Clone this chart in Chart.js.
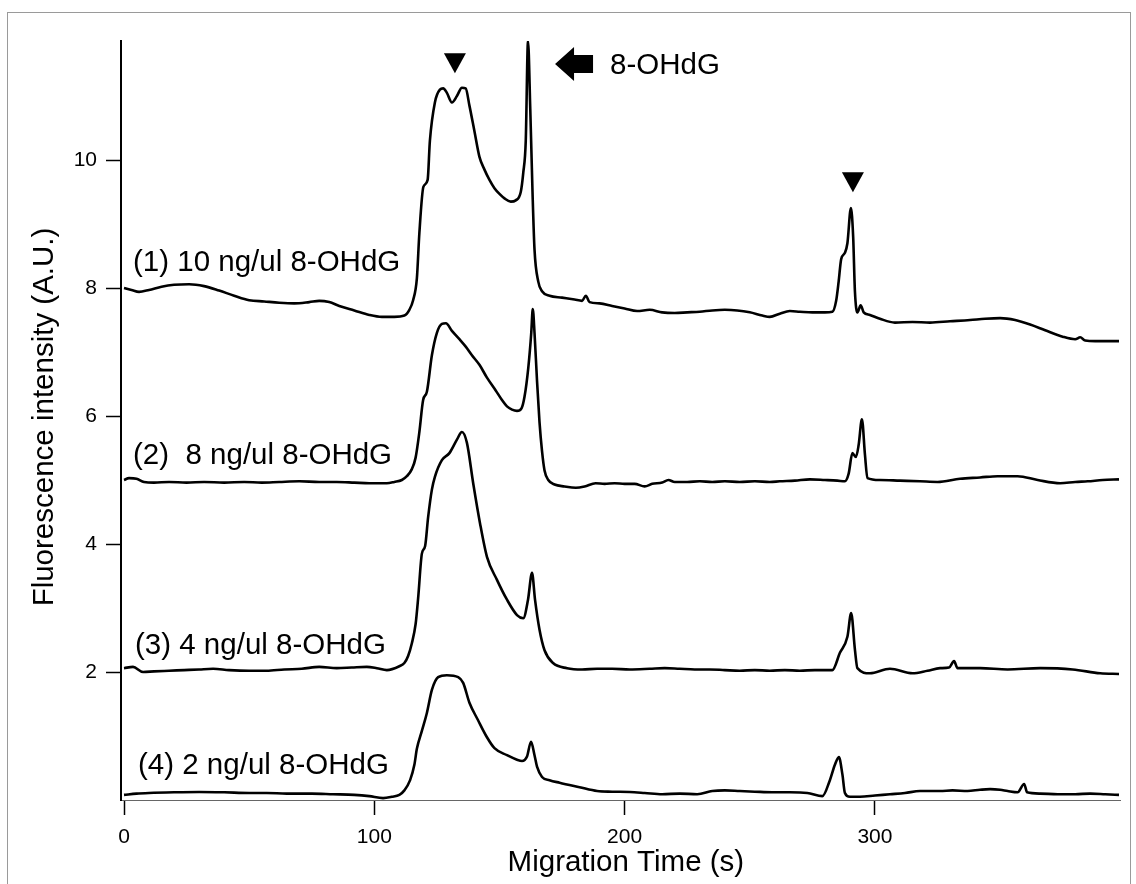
<!DOCTYPE html>
<html>
<head>
<meta charset="utf-8">
<script src="https://cdn.jsdelivr.net/npm/chart.js@4/dist/chart.umd.min.js"></script>
<style>
  html, body { margin: 0; padding: 0; background: #fff; }
  #wrap { width: 1136px; height: 884px; position: relative; }
</style>
</head>
<body>
<div id="wrap"><canvas id="cv" width="1136" height="884"></canvas></div>
<script>
// Electropherograms of 8-OHdG standards (fluorescence vs migration time)

const timeTicks = [0, 100, 200, 300];
const intensityTicks = [2, 4, 6, 8, 10];

const traceLabels = [
  '(1) 10 ng/ul 8-OHdG',
  '(2)  8 ng/ul 8-OHdG',
  '(3) 4 ng/ul 8-OHdG',
  '(4) 2 ng/ul 8-OHdG'
];

// (1) 10 ng/ul
const trace1Time = [0,3,6,10,15,20,26,32,38,44,50,56,62,68,74,78,82,86,92,98,
  103,108,112,114,115.5,117,118,119.6,121.3,122.2,124.2,126.2,127.5,129,131,133,135,136.5,138,140,
  142,144,146,148,150,152,154.5,156.5,158.5,159.5,160.5,161.4,162.3,163.2,164,165.5,167,170,175,180,
  183,184.5,186,190,195,200,205,210,215,220,225,230,235,240,245,250,255,258,262,266,
  270,275,280,283,284.5,285.5,286.5,288,289,290.4,291.3,292,293,294.3,295.5,298,302,308,315,322,
  330,338,344,350,356,362,368,375,380,382,384,388,393,397.5];
const trace1Signal = [8.00,7.97,7.94,7.97,8.02,8.05,8.06,8.03,7.96,7.88,7.81,7.79,7.77,7.76,7.78,7.80,7.78,7.72,7.65,7.58,
  7.55,7.55,7.57,7.66,7.81,8.15,8.86,9.58,9.69,10.30,10.90,11.10,11.12,11.05,10.90,11.00,11.13,11.12,10.85,10.45,
  10.05,9.85,9.69,9.56,9.47,9.40,9.35,9.37,9.50,9.80,10.30,11.86,10.80,9.50,8.60,8.10,7.95,7.88,7.85,7.82,
  7.80,7.88,7.78,7.76,7.72,7.68,7.64,7.66,7.62,7.61,7.62,7.63,7.65,7.66,7.65,7.62,7.57,7.55,7.60,7.64,
  7.63,7.62,7.62,7.63,7.80,8.10,8.45,8.55,8.70,9.25,8.80,7.95,7.62,7.73,7.62,7.58,7.52,7.46,7.47,7.46,
  7.48,7.50,7.52,7.53,7.50,7.43,7.34,7.24,7.20,7.23,7.18,7.17,7.17,7.17];

// (2) 8 ng/ul
const trace2Time = [0,2,5,8,12,18,25,32,40,48,55,62,70,78,85,92,98,105,108,111,
  113,115,116.5,118,119.5,121,123,125,127,128.6,131,134,136.6,139,142,145,148.5,151,153,155,
  157,158.8,160,161.5,162.7,163.3,164,165,166,167,168,169.5,172,176,180.5,184,188.4,192,196,200,
  204,208,211,215,217.5,220,225,230,235,240,246,252,258,262,268,274,280,285,288,289.5,
  291,292.4,293.5,294.8,296,297,302,310,318,325,334,342,349,357,365,374,380,385,391,397.5];
const trace2Signal = [5.00,5.03,5.02,4.97,4.96,4.97,4.96,4.97,4.96,4.97,4.96,4.97,4.98,4.97,4.97,4.96,4.95,4.95,4.97,5.00,
  5.06,5.17,5.35,5.75,6.25,6.38,6.95,7.30,7.44,7.45,7.33,7.20,7.08,6.95,6.80,6.60,6.40,6.25,6.15,6.10,
  6.08,6.12,6.30,6.75,7.30,7.67,7.30,6.55,5.90,5.45,5.15,5.00,4.93,4.90,4.88,4.90,4.95,4.94,4.95,4.94,
  4.94,4.90,4.94,4.96,5.00,4.97,4.97,4.98,4.97,4.98,4.97,4.98,4.97,4.98,4.99,5.01,5.00,4.99,4.98,5.10,
  5.42,5.36,5.55,5.95,5.40,5.03,5.00,4.99,4.98,4.97,5.02,5.04,5.06,5.06,5.00,4.95,4.97,4.98,5.00,5.01];

// (3) 4 ng/ul
const trace3Time = [0,3.6,7.6,12,18,24,30,35.6,42,50,57,64,71,78,85,91,97,101,105,110,
  112,113.5,115,116.5,117.5,119,120.3,121.5,123,124.2,127,130,133,135,137,139.5,142.2,145,149,153,
  157,159.5,161.4,163,164.2,166,168,171.4,177,183,189,195,202,210,216,222,228,234,240,246,
  252,258,264,270,276,283,286,289,290.5,292,293,298,306,315,321,326,329.6,331.6,333,342,
  353,366,379,390,397.5];
const trace3Signal = [2.06,2.08,2.00,2.01,2.02,2.03,2.04,2.05,2.03,2.02,2.02,2.04,2.05,2.08,2.06,2.07,2.08,2.06,2.03,2.09,
  2.14,2.25,2.45,2.75,3.15,3.85,3.97,4.42,4.85,5.05,5.31,5.42,5.63,5.75,5.58,4.95,4.33,3.80,3.44,3.13,
  2.89,2.84,3.13,3.55,3.13,2.66,2.34,2.14,2.06,2.04,2.05,2.05,2.04,2.05,2.06,2.05,2.04,2.04,2.03,2.02,
  2.03,2.02,2.03,2.02,2.03,2.03,2.30,2.55,2.92,2.35,2.06,1.98,2.05,1.98,2.02,2.06,2.07,2.17,2.06,2.06,
  2.04,2.06,2.04,1.98,1.97];

// (4) 2 ng/ul
const trace4Time = [0,5,10,20,30,40,50,57,65,75,83.5,92,98,103.5,107,110,112,114.3,116,117,
  119,121,123,125.5,129,133.5,135.5,138,141.4,145,148,153,157,159,161,162.6,164,165,167,170,
  174,182,189,195,202,208,215,222,229,235,240,246,252,259,266,273,279,282,284,285.6,
  287,288,290,294,300,306,312,318,326,331,337,342,346,350,353,357,359.6,360.8,366,373,
  380,386,392,397.5];
const trace4Signal = [0.08,0.10,0.11,0.12,0.125,0.12,0.11,0.11,0.10,0.10,0.09,0.08,0.06,0.03,0.05,0.08,0.15,0.31,0.55,0.80,
  1.08,1.36,1.72,1.92,1.95,1.92,1.83,1.52,1.25,0.98,0.81,0.70,0.63,0.61,0.68,0.91,0.70,0.52,0.36,0.31,
  0.27,0.20,0.14,0.13,0.125,0.11,0.09,0.10,0.09,0.14,0.15,0.14,0.13,0.12,0.12,0.11,0.06,0.31,0.55,0.67,
  0.40,0.11,0.05,0.05,0.07,0.09,0.11,0.14,0.14,0.15,0.14,0.16,0.17,0.16,0.14,0.12,0.25,0.12,0.10,0.09,
  0.09,0.10,0.09,0.08];

const FONT = '"Liberation Sans", Arial, Helvetica, sans-serif';

function toPoints(ts, vs) { return ts.map((t, i) => ({ x: t, y: vs[i] })); }

const traces = [
  toPoints(trace1Time, trace1Signal),
  toPoints(trace2Time, trace2Signal),
  toPoints(trace3Time, trace3Signal),
  toPoints(trace4Time, trace4Signal)
];

// Text, arrow and peak markers drawn over the traces
const overlay = {
  id: 'overlay',
  beforeDraw(chart) {
    const c = chart.ctx;
    c.save();
    c.fillStyle = '#fff';
    c.fillRect(0, 0, chart.width, chart.height);
    c.restore();
  },
  afterDraw(chart) {
    const c = chart.ctx;
    const xs = chart.scales.x, ys = chart.scales.y;
    const px = v => xs.getPixelForValue(v);
    const py = v => ys.getPixelForValue(v);
    c.save();

    // outer frame
    c.strokeStyle = '#9a9a9a';
    c.lineWidth = 1;
    c.strokeRect(7.5, 12.5, 1123, 900);

    c.fillStyle = '#000';
    c.font = '29.5px ' + FONT;
    c.textAlign = 'left';
    c.textBaseline = 'alphabetic';

    // trace labels
    const labelAt = [[3.6, 8.27], [3.6, 5.25], [4.4, 2.28], [5.6, 0.41]];
    traceLabels.forEach((txt, i) => c.fillText(txt, px(labelAt[i][0]), py(labelAt[i][1])));

    // arrow pointing at the 8-OHdG peak
    const tipX = px(172.2), tipY = py(11.5);
    c.beginPath();
    c.moveTo(tipX, tipY);
    c.lineTo(tipX + 19, tipY - 17);
    c.lineTo(tipX + 19, tipY - 9);
    c.lineTo(tipX + 38, tipY - 9);
    c.lineTo(tipX + 38, tipY + 9);
    c.lineTo(tipX + 19, tipY + 9);
    c.lineTo(tipX + 19, tipY + 17);
    c.closePath();
    c.fill();
    c.fillText('8-OHdG', px(194.2), py(11.34));

    // filled triangles over the marked peaks
    const tri = (t, top) => {
      const cx = px(t), y0 = py(top);
      c.beginPath();
      c.moveTo(cx - 11, y0);
      c.lineTo(cx + 11, y0);
      c.lineTo(cx, y0 + 20);
      c.closePath();
      c.fill();
    };
    tri(132.2, 11.67);
    tri(291.2, 9.81);

    // axis titles
    c.textAlign = 'center';
    c.fillText('Migration Time (s)', px(200.5), 871);
    c.translate(53, 417);
    c.rotate(-Math.PI / 2);
    c.fillText('Fluorescence intensity (A.U.)', 0, 0);
    c.restore();
  }
};

new Chart(document.getElementById('cv'), {
  type: 'line',
  data: {
    datasets: traces.map(pts => ({
      data: pts,
      borderColor: '#000',
      borderWidth: 2.6,
      pointRadius: 0,
      fill: false,
      cubicInterpolationMode: 'monotone'
    }))
  },
  options: {
    responsive: false,
    animation: false,
    devicePixelRatio: 1,
    layout: { padding: { top: 41, right: 16, left: 0, bottom: 0 } },
    plugins: { legend: { display: false }, tooltip: { enabled: false } },
    scales: {
      x: {
        type: 'linear',
        min: -1.2,
        max: 397.9,
        afterBuildTicks: s => { s.ticks = timeTicks.map(v => ({ value: v })); },
        afterFit: s => { s.height = 84; },
        grid: { drawOnChartArea: false, drawTicks: true, tickLength: 15, tickColor: '#000', tickWidth: 1.5 },
        border: { display: true, color: '#666', width: 1, dash: [2, 2] },
        ticks: { color: '#000', font: { family: FONT, size: 21 }, padding: 10, maxRotation: 0, autoSkip: false }
      },
      y: {
        type: 'linear',
        min: 0,
        max: 11.86,
        afterBuildTicks: s => { s.ticks = intensityTicks.map(v => ({ value: v })); },
        afterFit: s => { s.width = 121; },
        grid: { drawOnChartArea: false, drawTicks: true, tickLength: 15, tickColor: '#000', tickWidth: 1.5 },
        border: { display: true, color: '#000', width: 2 },
        ticks: { color: '#000', font: { family: FONT, size: 21 }, padding: 9 }
      }
    }
  },
  plugins: [overlay]
});
</script>
</body>
</html>
